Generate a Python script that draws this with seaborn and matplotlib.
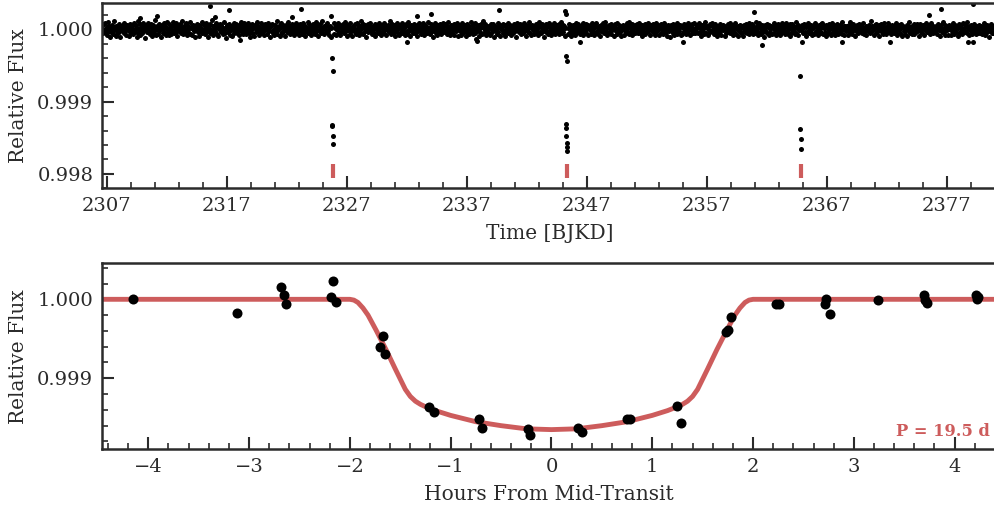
import numpy as np
import pandas as pd
import matplotlib
matplotlib.use("Agg")
import matplotlib.pyplot as plt
import seaborn as sns

# ---------------------------------------------------------------- data
PERIOD = 19.5          # days
T0 = 2325.82           # first mid-transit time [BJKD]
N_TRANSITS = 3

# out-of-transit photometric scatter, in ppm, for the evenly sampled light curve
baseline_ppm = [
    18, -52, 71, -9, 95, -33, 6, -77, 41, 104, -21, 55, -98, 13, -40, 63, 25, -61, 122, -4, 37, -85, 50, -27,
    -59, 10, 79, -35, 28, -108, 45, 3, -13, 68, -48, 92, -23, 33, -73, 16, 56, -6, -89, 40, 75, -39, 20, -55,
    47, -17, -68, 84, 9, -30, 61, -101, 26, 112, -43, -3, 71, -80, 35, 12, -52, 88, -16, 53, -118, 22, 4, 66,
    -36, 96, -11, 30, -64, 43, 78, -25, -92, 14, 59, -42, 131, -9, 28, -76, 49, 1, -57, 82, -22, 39, -103, 19,
    65, -45, 6, 90, -29, 52, -70, 23, 107, -13, -38, 72, -83, 32, 10, -58, 45, 99, -19, 62, -49, 0, 86, -33,
    29, -94, 55, 13, -26, 74, -54, 38, -7, 116, -66, 20, 46, -41, 87, -15, -78, 58, 4, -47, 35, 97, -61, 16,
    -82, 42, 68, -23, 7, -110, 51, 26, -4, 81, -35, 61, -88, 17, 41, -13, 104, -51, 70, -28, 12, -67, 54, 92,
    -18, 36, -98, 64, 22, -44, 77, -6, 126, -31, 44, -71, 9, 57, -20, 84, -56, 32, 15, -86, 50, -10, 73, -39,
    58, -16, 25, -63, 101, 3, -48, 39, -114, 67, 19, -32, 79, -75, 12, 52, -3, -95, 45, 28, -52, 89, -22, 6,
    76, -42, 34, -12, 60, -79, 20, 108, -26, 48, -60, 10, 95, -38, 31, -69, 65, 0, -17, 83, -47, 41, -104, 55,
    -9, 71, -55, 23, 44, -91, 63, 13, -36, 102, -19, 51, -70, 35, 7, -50, 88, -29, 17, 68, -83, 26, -1, 77,
    39, -66, 16, 93, -23, 47, -107, 29, 57, -15, 80, -44, 4, -76, 61, 22, -34, 119, -58, 38, -12, 52, -85, 19,
    85, -28, -51, 34, 67, -6, 45, -97, 15, 73, -40, 99, -17, 28, -63, 55, 9, -45, 82, -23, 42, -72, 64, 1,
    -54, 90, 12, -31, 50, -82, 25, 70, -10, 36, -64, 86, 20, -41, 60, -92, 32, 4, -22, 105, -53, 16, 74, -35,
    26, -76, 54, -4, 80, -32, 41, -58, 13, 98, -25, 63, -89, 44, -9, 71, -48, 22, 114, -38, 10, -69, 51, 29,
    -13, 64, -41, 92, -20, 31, -73, 55, 17, -99, 69, 6, -29, 83, -57, 38, 15, -80, 48, -3, 89, -44, 25, 66,
    -70, 20, 45, -16, 76, -51, 9, 102, -34, 57, -85, 28, 67, -10, 39, -61, 93, -26, 12, -94, 53, 35, -19, 73,
    4, -57, 86, -36, 23, 61, -77, 42, -6, 111, -45, 19, -67, 79, 31, -23, 58, -102, 16, 47, -31, 70, -7, 38,
    96, -20, 32, -66, 54, 10, -42, 74, -88, 26, 60, -13, 44, -54, 90, 3, -35, 66, -73, 22, 41, -48, 83, -26,
    13, 51, -83, 35, -4, 69, -38, 23, 123, -63, 29, -17, 77, -51, 9, 57, -91, 39, -10, 85, -32, 48, 16, -70,
    63, -29, 20, -53, 88, 1, -39, 50, -79, 34, 73, -22, -60, 99, -15, 42, 17, -86, 64, -4, 54, -44, 28, 80,
    -48, 38, 10, -96, 58, -26, 45, 83, -12, 22, -69, 53, -35, 92, 6, -76, 41, 67, -20, 32, -55, 15, 104, -31,
    22, -61, 71, -19, 39, -101, 55, 7, -41, 89, -7, 35, -80, 61, 25, -47, 82, -15, 48, -66, 12, 95, -28, 44,
    -38, 77, -13, 53, -58, 28, 108, -34, 9, -83, 66, 17, -50, 41, -9, 74, -70, 29, 57, -22, 85, -91, 36, 4,
    69, -25, 44, -74, 19, 93, -44, 32, -3, 60, -93, 13, 80, -29, 50, -57, 23, 3, -39, 101, -16, 63, -66, 26,
    -6, 89, -47, 25, 66, -19, 41, -85, 57, 15, -32, 76, -61, 36, 120, -51, 20, -12, 70, -77, 45, 9, -28, 54,
    34, -70, 16, 82, -39, 48, -10, 71, -98, 29, 55, -23, 10, -64, 88, -35, 42, 64, -85, 17, -1, 51, -45, 79,
    -17, 58, -88, 39, 12, -28, 95, -53, 26, 69, -15, 45, -77, 31, 6, -42, 76, -20, 54, -99, 35, 85, -9, 19,
    50, -36, 73, -6, -67, 42, 23, -55, 91, -22, 64, 4, -92, 38, 57, -31, 16, 107, -48, 28, -73, 61, -13, 41,
    -63, 25, 55, -12, 80, -45, 13, -82, 47, 98, -29, 35, -54, 20, 70, -17, -102, 51, 10, -38, 77, -25, 44, -60,
    31, 85, -20, 53, -77, 17, 63, -41, 7, 88, -69, 39, -4, 58, -32, 22, 79, -64, 45, -16, 99, -53, 3, 67,
    -28, 47, -89, 26, 36, -7, 69, -57, 19, 82, -35, 57, -96, 32, 12, -48, 66, 25, -76, 42, -20, 92, -41, 15,
    74, -15, 35, -61, 54, 6, -34, 96, -72, 23, 44, -26, 76, -45, 16, 63, -83, 34, -9, 53, -57, 20, 86, -36,
    9, -79, 60, 28, -44, 90, -16, 41, -66, 51, 13, -90, 67, -25, 38, -3, 83, -51, 29, 110, -39, 48, -70, 22,
    -50, 64, 17, -32, 77, -58, 31, -13, 55, -86, 39, 71, -19, 26, -67, 89, 4, -36, 61, -28, 44, -93, 36, 12,
    57, -10, -74, 45, 20, -48, 83, -23, 34, 104, -60, 15, 51, -41, 70, -82, 28, 9, -29, 64, -51, 39, 80, -17,
    -42, 22, 90, -55, 36, -4, 67, -88, 48, 3, -28, 79, -64, 19, 54, -34, 93, -16, 41, -74, 25, 58, -9, 45,
    70, -31, 13, -72, 50, 85, -39, 29, -12, 63, -80, 38, 20, -52, 76, 7, -61, 44, 96, -22, 55, -41, 16, -92,
    23, 68, -22, 42, -98, 32, 58, -6, 80, -47, 26, -73, 54, 10, -35, 88, -57, 36, 17, -15, 67, -83, 48, 31,
    -66, 38, 77, -26, 10, -63, 52, 28, -45, 95, -13, 45, -79, 61, 35, -23, 73, -42, 4, 86, -54, 22, -32, 58,
    16, -52, 41, 89, -35, 25, -85, 66, 9, -19, 57, -69, 34, 99, -44, 15, 50, -76, 29, -6, 82, -38, 64, -13,
    83, -23, 51, -64, 19, 71, -29, 42, -95, 55, 6, -48, 74, -17, 39, -70, 23, 63, -10, 47, -88, 31, 12, -51,
    -34, 73, -9, 35, -54, 96, -20, 13, 61, -77, 44, 20, -38, 85, -58, 28, 4, -89, 54, 36, -26, 69, -47, 17,
    44, -86, 29, -16, 66, -41, 22, 79, -51, 32, -3, 92, -69, 23, 53, -31, 71, -13, -64, 41, 16, -44, 102, -22,
    6, 55, -76, 39, 86, -28, 48, -60, 12, 67, -36, 26, -98, 58, -7, 45, 80, -50, 31, -82, 61, 10, -29, 51,
    -58, 32, 19, -44, 93, -12, 60, -80, 38, 15, -54, 76, -20, 42, -72, 25, 89, -34, 50, -4, 66, -64, 28, 83,
    36, -19, -67, 51, 26, -89, 70, 3, -42, 82, -25, 54, 13, -61, 35, 101, -48, 20, -74, 58, -9, 39, -35, 73,
    -12, 63, -50, 17, 76, -32, 44, -94, 28, 54, -17, 88, -55, 34, 7, -39, 69, -77, 41, 22, -60, 50, 91, -26,
    53, -38, 28, -83, 60, 12, -22, 73, -44, 39, 94, -66, 19, 50, -29, 67, -86, 31, 15, -53, 78, -12, 44, -70,
    20, 85, -54, 29, -13, 64, -73, 45, 4, -34, 80, -58, 38, 17, -45, 57, -23, 106, -63, 25, 42, -80, 54, -7,
    -27, 48, 8, -71, 66, -18, 35, 97, -40, 14, -58, 30, 72, -9, 51, -87, 24, 62, -32, 11, -49, 81, -15, 39,
    61, -8, -43, 25, 90, -64, 18, -26, 54, -79, 37, 5, -21, 68, -52, 33, 112, -37, 46, -11, 27, -70, 59, 14,
    -46, 79, -28, 12, 43, -93, 57, 31, -15, 70, -5, 49, -62, 86, 2, -33, 40, -56, 21, 94, -24, 63, -39, 8,
    35, -59, 66, -30, 17, 51, -46, 8, 84, -21, 42, -75, 27, 60, -12, -48, 73, 19, -87, 38, 55, -18, 30, -64,
    -3, 41, -84, 62, 28, -14, 99, -52, 36, 11, -68, 47, -30, 81, -57, 24, 15, -41, 70, -26, 53, 6, -95, 33,
    74, -33, 20, -47, 57, 34, -77, 26, -8, 91, -37, 18, 64, -24, 45, -62, 10, 84, -16, 29, -54, 43, 8, -29,
    -21, 52, 37, -60, 14, 76, -11, 44, -84, 23, 61, -40, 9, 97, -33, 56, -70, 27, 47, -5, 31, -76, 65, 12,
    47, -70, 29, -19, 83, -6, 39, -56, 68, -30, 21, 50, -91, 16, -43, 75, 32, -22, 58, -64, 3, 89, -36, 24,
    -15, 60, -31, 100, -49, 25, 7, -79, 43, 66, -25, 34, -58, 13, 78, -38, 51, -11, -68, 44, 20, -45, 61, -8,
    28, -43, 55, 11, -62, 39, 87, -20, 48, -71, 16, 63, -34, 25, -99, 52, 6, -27, 71, -50, 36, 14, -55, 42,
]
baseline_start, baseline_end = 2306.65, 2380.95

# isolated high / low points of the light curve
outlier_time = [2315.61, 2317.22, 2323.17, 2325.70, 2309.78, 2311.17, 2316.03, 2322.42, 2318.11,
                2339.72, 2334.00, 2332.88, 2345.22, 2345.27, 2332.00, 2337.80, 2337.85, 2346.44,
                2360.97, 2376.52, 2379.22, 2375.55, 2361.58, 2355.05, 2372.27, 2378.80, 2379.20,
                2368.25, 2364.97]
outlier_flux = [1.00032, 1.000265, 1.000285, 1.000193, 1.000161, 1.000183, 1.000175, 1.000175, 0.999853,
                1.000265, 1.00022, 1.000193, 1.00025, 1.00021, 0.99983, 0.99987, 0.99984, 0.99983,
                1.000243, 1.00028, 1.00035, 1.000206, 0.99978, 0.99982, 0.99983, 0.99983, 0.99983,
                0.99983, 0.99982]

# in-transit samples: transit number, offset from mid-transit [d], flux
intransit_epoch = [0, 0, 0, 0, 0, 0,
                   1, 1, 1, 1, 1, 1, 1, 1,
                   2, 2, 2, 2]
intransit_dt = [-0.075, 0.073, -0.045, -0.02, 0.01, 0.04,
                -0.07, 0.07, -0.05, -0.03, -0.01, 0.01, 0.03, 0.05,
                -0.06, -0.02, 0.01, 0.04]
intransit_flux = [0.99960, 0.99943, 0.99868, 0.99866, 0.99853, 0.99842,
                  0.99963, 0.99957, 0.99869, 0.99863, 0.99853, 0.99843, 0.99837, 0.99831,
                  0.99935, 0.99862, 0.99848, 0.99835]

# phase-folded light curve
fold_hours = [-4.15, -3.12, -2.68, -2.65, -2.63, -2.17, -2.19, -2.14, -1.70, -1.67, -1.65,
              -1.21, -1.17, -0.72, -0.69, -0.23, -0.21, 0.26, 0.30, 0.75, 0.78, 1.25, 1.29,
              1.73, 1.75, 1.78, 2.23, 2.26, 2.72, 2.71, 2.76, 3.24, 3.70, 3.73, 3.71,
              4.21, 4.23, 4.22]
fold_flux = [1.00000, 0.99983, 1.00015, 1.00005, 0.99994, 1.00023, 1.00003, 0.99996, 0.99939,
             0.99954, 0.99931, 0.99863, 0.99857, 0.99848, 0.99837, 0.99836, 0.99828, 0.99837,
             0.99832, 0.99849, 0.99848, 0.99865, 0.99843, 0.99958, 0.99961, 0.99977, 0.99994,
             0.99994, 1.00000, 0.99994, 0.99981, 0.99999, 1.00006, 0.99995, 0.99999, 1.00005,
             1.00003, 1.00000]

# best-fit transit model
model_hours = [-4.5, -2.0, -1.96, -1.92, -1.87, -1.82, -1.74, -1.64, -1.55, -1.5, -1.45, -1.4,
               -1.35, -1.3, -1.25, -1.15, -1.0, -0.75, -0.5, -0.25, 0.0,
               0.25, 0.5, 0.75, 1.0, 1.15, 1.25, 1.3, 1.35, 1.4, 1.45, 1.5, 1.55, 1.64,
               1.74, 1.82, 1.87, 1.92, 1.96, 2.0, 4.5]
model_flux = [1.00000, 1.00000, 0.99999, 0.99996, 0.99989, 0.99980, 0.99961, 0.99936, 0.99912,
              0.99899, 0.99886, 0.99877, 0.99871, 0.99867, 0.99864, 0.99859, 0.99853, 0.99845,
              0.99840, 0.99836, 0.99835,
              0.99836, 0.99840, 0.99845, 0.99853, 0.99859, 0.99864, 0.99867, 0.99871, 0.99877,
              0.99886, 0.99899, 0.99912, 0.99936, 0.99961, 0.99980, 0.99989, 0.99996, 0.99999,
              1.00000, 1.00000]

top_xticks = [2307, 2317, 2327, 2337, 2347, 2357, 2367, 2377]
flux_ticks = [0.998, 0.999, 1.000]
hour_ticks = [-4, -3, -2, -1, 0, 1, 2, 3, 4]

# ---------------------------------------------------------------- tables
transit_times = T0 + PERIOD * np.arange(N_TRANSITS)

base_t = np.linspace(baseline_start, baseline_end, len(baseline_ppm))
base_f = 1.0 + np.asarray(baseline_ppm) * 1e-6
keep = np.min(np.abs(base_t[:, None] - transit_times[None, :]), axis=1) > 0.07

lc = pd.concat([
    pd.DataFrame({"time": base_t[keep], "flux": base_f[keep]}),
    pd.DataFrame({"time": outlier_time, "flux": outlier_flux}),
    pd.DataFrame({"time": transit_times[np.asarray(intransit_epoch)] + np.asarray(intransit_dt),
                  "flux": intransit_flux}),
], ignore_index=True)

folded = pd.DataFrame({"hours": fold_hours, "flux": fold_flux})
model = pd.DataFrame({"hours": model_hours, "flux": model_flux})

# ---------------------------------------------------------------- style
sns.set_theme(style="ticks")
RED = "#cd5c5c"
INK = "#2b2b2b"
plt.rcParams.update({
    "font.family": ["DejaVu Serif"],
    "font.size": 14,
    "axes.labelsize": 14.5,
    "xtick.labelsize": 14,
    "ytick.labelsize": 14,
    "axes.edgecolor": INK,
    "axes.labelcolor": INK,
    "xtick.color": INK,
    "ytick.color": INK,
    "text.color": INK,
    "axes.linewidth": 1.8,
    "xtick.direction": "in",
    "ytick.direction": "in",
    "xtick.major.size": 8.5,
    "ytick.major.size": 8.5,
    "xtick.minor.size": 4.3,
    "ytick.minor.size": 4.3,
    "xtick.major.width": 1.5,
    "ytick.major.width": 1.5,
    "xtick.minor.width": 1.2,
    "ytick.minor.width": 1.2,
    "xtick.major.pad": 6.2,
    "ytick.major.pad": 6.0,
})

fig = plt.figure(figsize=(9.95, 5.08), dpi=100)
ax1 = fig.add_axes([0.1022, 0.6293, 0.8998, 0.3648])
ax2 = fig.add_axes([0.1022, 0.1156, 0.8998, 0.3661])

# ---------------------------------------------------------------- top: full light curve
sns.scatterplot(data=lc, x="time", y="flux", ax=ax1, color="black", s=13,
                linewidth=0, legend=False)
ax1.vlines(transit_times, 0.99794, 0.99813, color=RED, linewidth=3.0)

ax1.set_xlim(2306.583, 2381.19)
ax1.set_ylim(0.997821, 1.000367)
ax1.set_xticks(top_xticks)
ax1.set_xticks(np.arange(2307, 2382, 2), minor=True)
ax1.set_yticks(flux_ticks)
ax1.set_yticks(np.arange(0.9978, 1.0004, 0.0002), minor=True)
ax1.set_yticklabels([f"{v:.3f}" for v in flux_ticks])
ax1.set_xlabel("Time [BJKD]", labelpad=6.5)
ax1.set_ylabel("Relative Flux", labelpad=7)

# ---------------------------------------------------------------- bottom: folded transit
sns.lineplot(data=model, x="hours", y="flux", ax=ax2, color=RED, linewidth=3.5,
             sort=False, zorder=2)
sns.scatterplot(data=folded, x="hours", y="flux", ax=ax2, color="black", s=52,
                linewidth=0, legend=False, zorder=3)

ax2.set_xlim(-4.462, 4.420)
ax2.set_ylim(0.998101, 1.000456)
ax2.set_xticks(hour_ticks)
ax2.set_xticks(np.arange(-4.4, 4.5, 0.2), minor=True)
ax2.set_yticks(flux_ticks[1:])
ax2.set_yticks(np.arange(0.9982, 1.0005, 0.0002), minor=True)
ax2.set_yticklabels([f"{v:.3f}" for v in flux_ticks[1:]])
ax2.set_xticklabels([f"\N{MINUS SIGN}{abs(v)}" if v < 0 else f"{v}" for v in hour_ticks])
ax2.set_xlabel("Hours From Mid-Transit", labelpad=6.5)
ax2.set_ylabel("Relative Flux", labelpad=7)
ax2.text(0.992, 0.073, f"P = {PERIOD} d", transform=ax2.transAxes, ha="right",
         va="baseline", color=RED, fontsize=11.7, fontweight="bold")

for ax in (ax1, ax2):
    ax.tick_params(which="both", top=False, right=False)

fig.savefig("out.png", dpi=100)
